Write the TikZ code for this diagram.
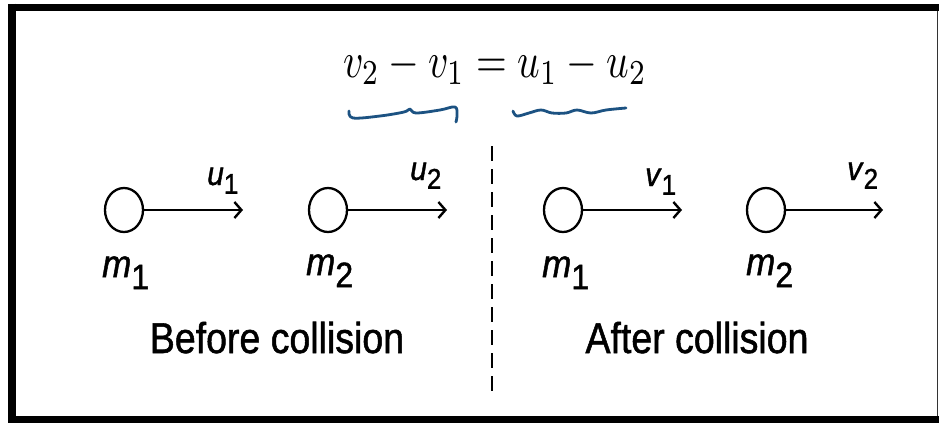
\documentclass[tikz,border=0pt]{standalone}
\usepackage{fontspec}
\usepackage{graphicx}
\newfontfamily\hv[FakeBold=1.3]{Liberation Sans}
\usetikzlibrary{arrows.meta,shapes.geometric}
\definecolor{penblue}{RGB}{28,82,130}
\newcommand{\mlab}[1]{\scalebox{1}[1.1]{\hv\fontsize{35}{35}\selectfont\textit{m}\raisebox{-11pt}{\fontsize{32}{32}\selectfont #1}}}
\newcommand{\vlab}[2]{\scalebox{1}[1.1]{\hv\fontsize{30}{30}\selectfont\textit{#1}\raisebox{-8pt}{\fontsize{26}{26}\selectfont #2}}}
\newcommand{\captext}[1]{\scalebox{1}[1.15]{\hv\fontsize{37.5}{37.5}\selectfont #1}}
\begin{document}
\begin{tikzpicture}[x=1pt,y=-1pt,
  ball/.style={draw,line width=2.3pt,ellipse,minimum width=38pt,minimum height=44pt,inner sep=0pt},
  vel/.style={line width=2.6pt,-{Straight Barb[length=7pt,width=16pt,line width=2.4pt]}},
  lab/.style={inner sep=0pt,anchor=base west},
  curl/.style={penblue,line width=2.8pt,line cap=round,line join=round}]
\useasboundingbox (0,0) rectangle (939,423);
\fill[white] (0,0) rectangle (939,423);
% border
\draw[line width=7.5pt] (8,7.25) -- (939,7.25);
\draw[line width=8pt] (12,3.5) -- (12,423);
\draw[line width=7pt] (8,419.8) -- (939,419.8);
\draw[line width=1.5pt,black!80] (937.5,11) -- (937.5,416);
% equation
\node[inner sep=0pt,anchor=base] (eq) at (495,77) {\scalebox{3.95}[5.0]{$v_{\mbox{\scriptsize 2}} - v_{\mbox{\scriptsize 1}} = u_{\mbox{\scriptsize 1}} - u_{\mbox{\scriptsize 2}}$}};
% curly underlines
\draw[curl] plot[smooth,tension=0.6] coordinates {(349,111) (353,118) (380,116) (404,112) (410,109) (416,113) (440,110) (455,107) (457,115) (456,122)};
\draw[curl] plot[smooth,tension=0.6] coordinates {(513,111) (517,116) (529,113) (541,110) (552,113) (566,113) (577,110) (591,113) (606,110) (626,108)};
% dashed divider
\coordinate (dtop) at (492,146);
\coordinate (dbot) at (492,392);
\draw[line width=2.5pt,dash pattern=on 15pt off 8pt] (dtop) -- (dbot);
% balls
\node[ball] (b1) at (124,210) {};
\node[ball] (b2) at (328,210) {};
\node[ball] (b3) at (563,210) {};
\node[ball] (b4) at (766,210) {};
\coordinate (e1) at (243,210);
\coordinate (e2) at (447,210);
\coordinate (e3) at (682,210);
\coordinate (e4) at (883,210);
\draw[vel] (b1.east) -- (e1);
\draw[vel] (b2.east) -- (e2);
\draw[vel] (b3.east) -- (e3);
\draw[vel] (b4.east) -- (e4);
% velocity labels
\node[lab] (u1) at (207,185) {\vlab{u}{1}};
\node[lab] (u2) at (410,180) {\vlab{u}{2}};
\node[lab] (v1) at (645,186) {\vlab{v}{1}};
\node[lab] (v2) at (847,180) {\vlab{v}{2}};
% mass labels
\node[lab] (m1) at (102,277) {\mlab{1}};
\node[lab] (m2) at (306,275) {\mlab{2}};
\node[lab] (m3) at (542,277) {\mlab{1}};
\node[lab] (m4) at (746,275) {\mlab{2}};
% captions
\node[inner sep=0pt,anchor=base] (before) at (277,353) {\captext{Before collision}};
\node[inner sep=0pt,anchor=base] (after) at (697,353) {\captext{After collision}};
\end{tikzpicture}
\end{document}
